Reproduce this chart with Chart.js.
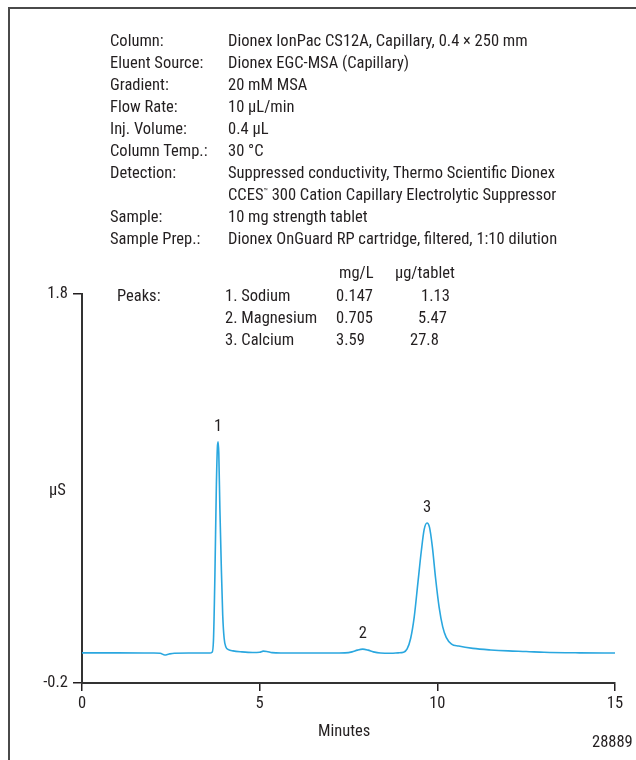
<!DOCTYPE html>
<html>
<head>
<meta charset="utf-8">
<script src="https://cdn.jsdelivr.net/npm/chart.js@4.4.1/dist/chart.umd.min.js"></script>
<style>
  html, body { margin: 0; padding: 0; background: #fff; }
  #page { position: relative; width: 636px; height: 760px; overflow: hidden;
          font-family: 'Liberation Sans Narrow', 'Roboto Condensed', 'DejaVu Sans Condensed', sans-serif;
          font-size: 16.5px; color: #231f20; }
  #frame { position: absolute; left: 8px; top: 7px; width: 700px; height: 800px;
           border-left: 2px solid #4a4a4a; border-top: 2px solid #4a4a4a; }
  #chart { position: absolute; left: 0; top: 0; }
  .t { position: absolute; line-height: 22px; white-space: nowrap; }
  .tm { position: relative; top: -6px; font-size: 8px; }
</style>
</head>
<body>
<div id="page">
  <div id="frame"></div>
  <canvas id="chart" width="636" height="760"></canvas>

  <div class="t" style="left:110px; top:30px">Column:</div>
  <div class="t" style="left:228px; top:30px">Dionex IonPac CS12A, Capillary, 0.4 × 250 mm</div>
  <div class="t" style="left:110px; top:52px">Eluent Source:</div>
  <div class="t" style="left:228px; top:52px">Dionex EGC-MSA (Capillary)</div>
  <div class="t" style="left:110px; top:74px">Gradient:</div>
  <div class="t" style="left:228px; top:74px">20 mM MSA</div>
  <div class="t" style="left:110px; top:96px">Flow Rate:</div>
  <div class="t" style="left:228px; top:96px">10 µL/min</div>
  <div class="t" style="left:110px; top:118px">Inj. Volume:</div>
  <div class="t" style="left:228px; top:118px">0.4 µL</div>
  <div class="t" style="left:110px; top:140px">Column Temp.:</div>
  <div class="t" style="left:228px; top:140px">30 °C</div>
  <div class="t" style="left:110px; top:162px">Detection:</div>
  <div class="t" style="left:228px; top:162px">Suppressed conductivity, Thermo Scientific Dionex</div>
  <div class="t" style="left:228px; top:184px">CCES<span class="tm">™</span> 300 Cation Capillary Electrolytic Suppressor</div>
  <div class="t" style="left:110px; top:206px">Sample:</div>
  <div class="t" style="left:228px; top:206px">10 mg strength tablet</div>
  <div class="t" style="left:110px; top:228px">Sample Prep.:</div>
  <div class="t" style="left:228px; top:228px">Dionex OnGuard RP cartridge, filtered, 1:10 dilution</div>

  <div class="t" style="left:339px; top:262px">mg/L</div>
  <div class="t" style="left:395px; top:262px">µg/tablet</div>
  <div class="t" style="left:117px; top:285px">Peaks:</div>
  <div class="t" style="left:225px; top:285px">1. Sodium</div>
  <div class="t" style="left:336px; top:285px">0.147</div>
  <div class="t" style="left:421px; top:285px">1.13</div>
  <div class="t" style="left:225px; top:307px">2. Magnesium</div>
  <div class="t" style="left:336px; top:307px">0.705</div>
  <div class="t" style="left:418px; top:307px">5.47</div>
  <div class="t" style="left:225px; top:329px">3. Calcium</div>
  <div class="t" style="left:336px; top:329px">3.59</div>
  <div class="t" style="left:410px; top:329px">27.8</div>

  <div class="t" style="left:49px; top:479px">µS</div>
  <div class="t" style="left:318px; top:720px">Minutes</div>
  <div class="t" style="left:592px; top:731px">28889</div>
</div>

<script>
// chromatogram: retention time (min) and signal (µS)
var times = [0, 1.0, 2.0, 2.2, 2.33, 2.45, 2.6, 3.0, 3.5, 3.6, 3.66, 3.7, 3.74, 3.78, 3.81, 3.83,
             3.85, 3.88, 3.92, 3.96, 4.0, 4.05, 4.12, 4.25, 4.5, 4.8, 5.0, 5.1, 5.2, 5.35, 5.6,
             6.0, 6.5, 7.0, 7.4, 7.6, 7.75, 7.9, 8.05, 8.2, 8.4, 8.7, 8.9, 9.05, 9.15, 9.25,
             9.35, 9.45, 9.55, 9.63, 9.71, 9.78, 9.86, 9.95, 10.05, 10.15, 10.25, 10.4, 10.6,
             11.0, 11.5, 12.0, 12.5, 13.0, 14.0, 15.0];
var signal = [-0.045, -0.045, -0.046, -0.047, -0.056, -0.051, -0.047, -0.046, -0.046, -0.046, -0.042, 0.02, 0.35, 0.80, 1.01, 1.04,
              0.98, 0.70, 0.40, 0.15, 0.03, -0.015, -0.028, -0.035, -0.04, -0.043, -0.042, -0.036, -0.038, -0.044, -0.046,
              -0.046, -0.046, -0.046, -0.045, -0.04, -0.031, -0.026, -0.031, -0.04, -0.046, -0.047, -0.045, -0.042, -0.025, 0.03,
              0.14, 0.31, 0.48, 0.59, 0.623, 0.60, 0.50, 0.34, 0.19, 0.09, 0.035, 0.0, -0.01,
              -0.022, -0.03, -0.035, -0.038, -0.042, -0.045, -0.046];

var peakNames = ['1', '2', '3'];
var peakTimes = [3.83, 7.9, 9.71];
var peakHeights = [1.04, -0.026, 0.623];

var xTicks = [0, 5, 10, 15];
var yTicks = [-0.2, 1.8];

var ink = '#231f20';
var fontFamily = "'Liberation Sans Narrow', 'Roboto Condensed', 'DejaVu Sans Condensed', sans-serif";

var points = times.map(function(t, i) {
    return {x: t, y: signal[i]};
});

var peakLabels = {
    id: 'peakLabels',
    afterDatasetsDraw: function(chart) {
        var ctx = chart.ctx;
        var xs = chart.scales.x;
        var ys = chart.scales.y;
        ctx.save();
        ctx.font = '16.5px ' + fontFamily;
        ctx.fillStyle = ink;
        ctx.textAlign = 'center';
        ctx.textBaseline = 'middle';
        for (var i = 0; i < peakNames.length; i++) {
            ctx.fillText(peakNames[i], xs.getPixelForValue(peakTimes[i]), ys.getPixelForValue(peakHeights[i]) - 15);
        }
        ctx.restore();
    }
};

new Chart(document.getElementById('chart'), {
    type: 'line',
    data: {
        datasets: [{
            data: points,
            borderColor: '#2aa7df',
            borderWidth: 1.6,
            pointRadius: 0,
            fill: false,
            cubicInterpolationMode: 'monotone'
        }]
    },
    options: {
        responsive: false,
        animation: false,
        devicePixelRatio: 1,
        layout: { padding: { top: 294, right: 21, bottom: 0, left: 0 } },
        plugins: { legend: { display: false }, tooltip: { enabled: false } },
        scales: {
            x: {
                type: 'linear',
                min: 0,
                max: 15,
                afterFit: function(scale) { scale.height = 77; },
                afterBuildTicks: function(axis) {
                    axis.ticks = xTicks.map(function(v) { return {value: v}; });
                },
                grid: { drawOnChartArea: false, drawTicks: true, tickLength: 8, color: ink, lineWidth: 1.5 },
                border: { display: true, color: '#333', width: 2 },
                ticks: { color: ink, font: { family: fontFamily, size: 16.5 }, padding: 3, maxRotation: 0 }
            },
            y: {
                type: 'linear',
                min: -0.2,
                max: 1.8,
                afterFit: function(scale) { scale.width = 82; },
                afterBuildTicks: function(axis) {
                    axis.ticks = yTicks.map(function(v) { return {value: v}; });
                },
                grid: { drawOnChartArea: false, drawTicks: true, tickLength: 9, color: ink, lineWidth: 1.5 },
                border: { display: true, color: '#333', width: 2 },
                ticks: {
                    color: ink,
                    font: { family: fontFamily, size: 16.5 },
                    padding: 5,
                    callback: function(v) { return String(v); }
                }
            }
        }
    },
    plugins: [peakLabels]
});
</script>
</body>
</html>
